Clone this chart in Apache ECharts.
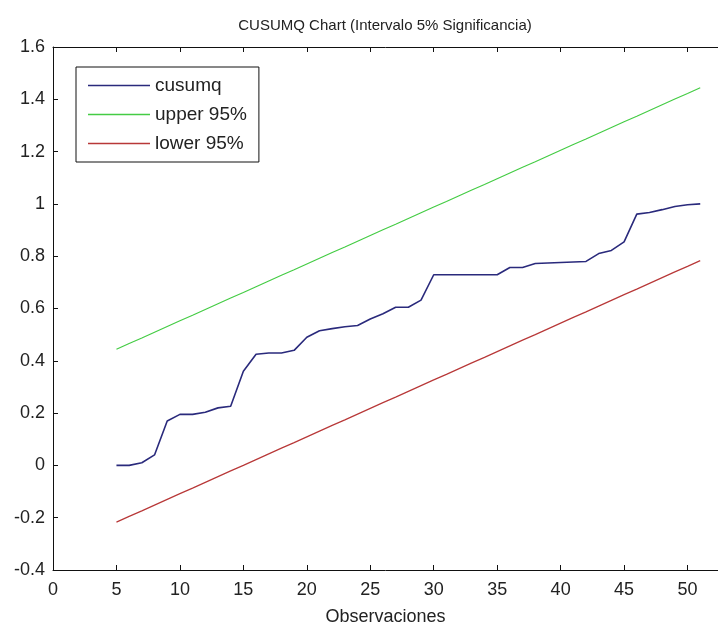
<!DOCTYPE html>
<html lang="en">
<head>
    <meta charset="UTF-8">
    <script src="https://cdn.jsdelivr.net/npm/echarts@6/dist/echarts.min.js"></script>
    <style>
        body { margin: 0; background: #fff; }
    </style>
</head>
<body>

<div id="main" style="width: 718px;height:631px;"></div>

<script type="text/javascript">
    // observaciones 5..51
    var obs = [5, 6, 7, 8, 9, 10, 11, 12, 13, 14, 15, 16, 17, 18, 19, 20, 21, 22, 23, 24, 25, 26, 27, 28,
        29, 30, 31, 32, 33, 34, 35, 36, 37, 38, 39, 40, 41, 42, 43, 44, 45, 46, 47, 48, 49, 50, 51];

    var cusumq = [0.0, 0.0, 0.01, 0.04, 0.17, 0.195, 0.195, 0.203, 0.22, 0.226, 0.36, 0.425, 0.43, 0.43,
        0.44, 0.49, 0.515, 0.523, 0.53, 0.535, 0.56, 0.58, 0.605, 0.605, 0.632, 0.729, 0.729, 0.729,
        0.729, 0.729, 0.729, 0.757, 0.757, 0.772, 0.774, 0.776, 0.778, 0.78, 0.81, 0.822, 0.855, 0.961,
        0.967, 0.978, 0.99, 0.997, 1.0];

    var upper = [0.444, 0.466, 0.487, 0.509, 0.531, 0.553, 0.574, 0.596, 0.618, 0.640, 0.661, 0.683,
        0.705, 0.727, 0.748, 0.770, 0.792, 0.814, 0.835, 0.857, 0.879, 0.901, 0.922, 0.944, 0.966, 0.988,
        1.009, 1.031, 1.053, 1.074, 1.096, 1.118, 1.140, 1.161, 1.183, 1.205, 1.227, 1.248, 1.270, 1.292,
        1.314, 1.335, 1.357, 1.379, 1.401, 1.422, 1.444];

    var lower = [-0.217, -0.195, -0.174, -0.152, -0.130, -0.108, -0.087, -0.065, -0.043, -0.021, 0.000,
        0.022, 0.044, 0.066, 0.087, 0.109, 0.131, 0.153, 0.174, 0.196, 0.218, 0.240, 0.261, 0.283, 0.305,
        0.327, 0.348, 0.370, 0.392, 0.413, 0.435, 0.457, 0.479, 0.500, 0.522, 0.544, 0.566, 0.587, 0.609,
        0.631, 0.653, 0.674, 0.696, 0.718, 0.740, 0.761, 0.783];

    function pairs(ys) {
        var out = [];
        for (var i = 0; i < obs.length; i++) out.push([obs[i], ys[i]]);
        return out;
    }

    var myChart = echarts.init(document.getElementById('main'));
    var font = 'Liberation Sans, Arial, sans-serif';

    var option = {
        backgroundColor: '#fff',
        animation: false,
        title: {
            text: 'CUSUMQ Chart (Intervalo 5% Significancia)',
            left: 380,
            textAlign: 'center',
            top: 13,
            textStyle: { fontSize: 15, fontWeight: 'normal', color: '#222', fontFamily: font }
        },
        legend: {
            data: ['cusumq', 'upper 95%', 'lower 95%'],
            icon: 'rect',
            orient: 'vertical',
            left: 76,
            top: 67,
            padding: [8, 12, 8, 12],
            itemWidth: 62,
            itemHeight: 1.5,
            itemGap: 8,
            borderColor: '#111',
            borderWidth: 1,
            backgroundColor: '#fff',
            textStyle: { fontSize: 19, color: '#222', fontFamily: font, lineHeight: 21 }
        },
        grid: { left: 53, right: 0, top: 47, bottom: 53 },
        xAxis: [{
            type: 'value',
            min: 0,
            max: 52.4,
            interval: 5,
            name: 'Observaciones',
            nameLocation: 'middle',
            nameGap: 38,
            nameTextStyle: { fontSize: 18, color: '#222', fontFamily: font },
            axisLine: { onZero: false, lineStyle: { color: '#111', width: 1 } },
            axisTick: { inside: true, length: 5, lineStyle: { color: '#111' } },
            axisLabel: { fontSize: 18, color: '#222', fontFamily: font, margin: 11, showMaxLabel: false },
            splitLine: { show: false }
        }, {
            type: 'value',
            position: 'top',
            min: 0,
            max: 52.4,
            interval: 5,
            axisLine: { onZero: false, lineStyle: { color: '#111', width: 1 } },
            axisTick: { inside: true, length: 5, lineStyle: { color: '#111' } },
            axisLabel: { show: false },
            splitLine: { show: false }
        }],
        yAxis: {
            type: 'value',
            min: -0.4,
            max: 1.6,
            interval: 0.2,
            axisLine: { show: true, onZero: false, lineStyle: { color: '#111', width: 1 } },
            axisTick: { show: true, inside: true, length: 5, lineStyle: { color: '#111' } },
            axisLabel: { fontSize: 18, color: '#222', fontFamily: font, margin: 8 },
            splitLine: { show: false }
        },
        series: [{
            name: 'cusumq',
            type: 'line',
            symbol: 'none',
            data: pairs(cusumq),
            itemStyle: { color: '#2a2a7c' },
            lineStyle: { color: '#2a2a7c', width: 1.6 }
        }, {
            name: 'upper 95%',
            type: 'line',
            symbol: 'none',
            data: pairs(upper),
            itemStyle: { color: '#44cc44' },
            lineStyle: { color: '#44cc44', width: 1.2 }
        }, {
            name: 'lower 95%',
            type: 'line',
            symbol: 'none',
            data: pairs(lower),
            itemStyle: { color: '#b83838' },
            lineStyle: { color: '#b83838', width: 1.2 }
        }]
    };

    myChart.setOption(option);
</script>
</body>
</html>
